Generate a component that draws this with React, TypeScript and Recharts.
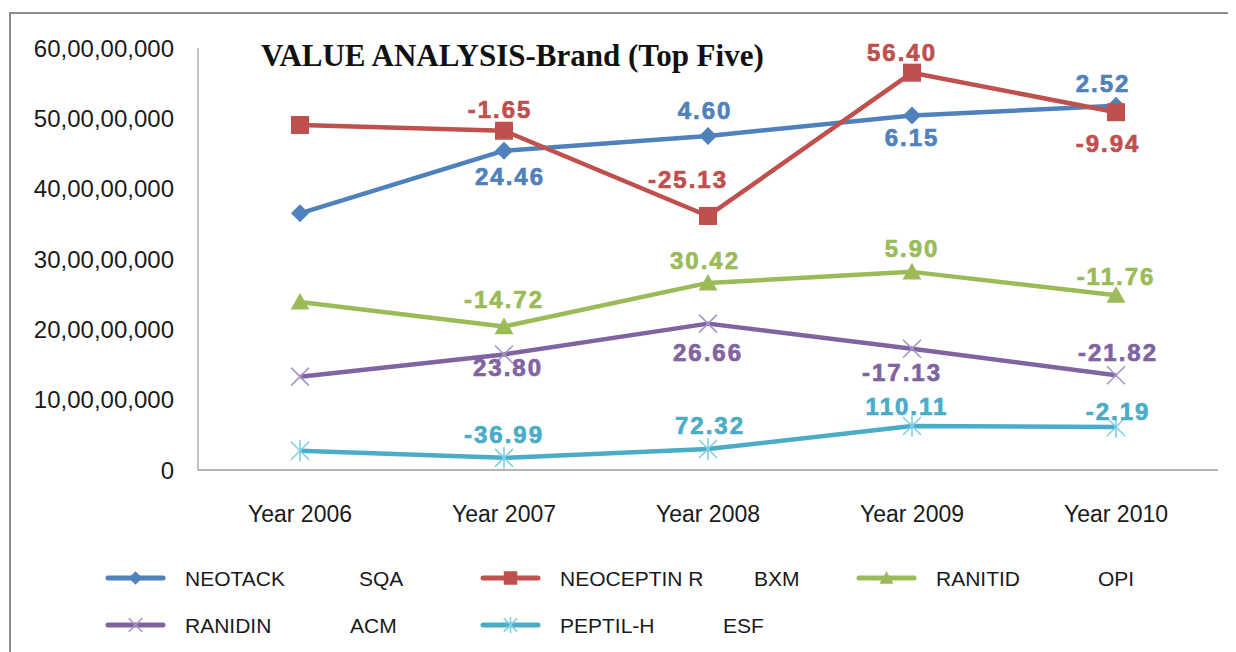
import React from "react";
import { LineChart, Line, XAxis, YAxis, Legend, LabelList } from "recharts";

// ---------- data ----------
const years = ["Year 2006", "Year 2007", "Year 2008", "Year 2009", "Year 2010"];
const brands = ["NEOTACK", "NEOCEPTIN R", "RANITID", "RANIDIN", "PEPTIL-H"];
const companies = ["SQA", "BXM", "OPI", "ACM", "ESF"];

const neotack = [365000000, 454000000, 475000000, 504000000, 518000000];
const neoceptin = [490500000, 482400000, 361200000, 564900000, 508700000];
const ranitid = [239000000, 204000000, 266000000, 281700000, 248600000];
const ranidin = [132700000, 164300000, 208100000, 172400000, 134800000];
const peptil = [27400000, 17300000, 29800000, 62600000, 61200000];

const neotackGrowth = [null, "24.46", "4.60", "6.15", "2.52"];
const neoceptinGrowth = [null, "-1.65", "-25.13", "56.40", "-9.94"];
const ranitidGrowth = [null, "-14.72", "30.42", "5.90", "-11.76"];
const ranidinGrowth = [null, "23.80", "26.66", "-17.13", "-21.82"];
const peptilGrowth = [null, "-36.99", "72.32", "110.11", "-2.19"];

const yTicks = [0, 100000000, 200000000, 300000000, 400000000, 500000000, 600000000];
const title = "VALUE ANALYSIS-Brand (Top Five)";

// ---------- chart table ----------
const data = years.map((year, i) => ({
  year,
  neotack: neotack[i],
  neoceptin: neoceptin[i],
  ranitid: ranitid[i],
  ranidin: ranidin[i],
  peptil: peptil[i],
}));

// ---------- styles ----------
const series = [
  { key: "neotack", color: "#4F81BD", marker: "diamond", markerColor: "#4F81BD", growth: neotackGrowth,
    offsets: [[0, 0], [6, 26], [-3, -25], [0, 22], [-13, -22]] },
  { key: "neoceptin", color: "#C0504D", marker: "square", markerColor: "#C0504D", growth: neoceptinGrowth,
    offsets: [[0, 0], [-4, -21], [-20, -36], [-10, -20], [-8, 31]] },
  { key: "ranitid", color: "#9BBB59", marker: "triangle", markerColor: "#9BBB59", growth: ranitidGrowth,
    offsets: [[0, 0], [0, -27], [-3, -22], [0, -23], [0, -19]] },
  { key: "ranidin", color: "#8064A2", marker: "x", markerColor: "#a895c9", growth: ranidinGrowth,
    offsets: [[0, 0], [4, 13], [0, 29], [-10, 24], [2, -23]] },
  { key: "peptil", color: "#4BACC6", marker: "star", markerColor: "#7fcfe4", growth: peptilGrowth,
    offsets: [[0, 0], [0, -23], [2, -24], [-5, -19], [2, -15]] },
];

const SANS = "'Liberation Sans', Arial, sans-serif";
const SERIF = "'Liberation Serif', 'Times New Roman', serif";

function formatIndian(v: number): string {
  const s = String(Math.round(v));
  if (s.length <= 3) return s;
  const last3 = s.slice(-3);
  const rest = s.slice(0, -3).replace(/\B(?=(\d{2})+(?!\d))/g, ",");
  return rest + "," + last3;
}

function Marker({ type, cx, cy, color, s = 1 }: { type: string; cx: number; cy: number; color: string; s?: number }) {
  const h = 9 * s;
  switch (type) {
    case "diamond":
      return <polygon points={`${cx},${cy - h} ${cx + h},${cy} ${cx},${cy + h} ${cx - h},${cy}`} fill={color} />;
    case "square":
      return <rect x={cx - h} y={cy - h} width={2 * h} height={2 * h} fill={color} />;
    case "triangle":
      return <polygon points={`${cx},${cy - h} ${cx + h * 1.05},${cy + h * 0.85} ${cx - h * 1.05},${cy + h * 0.85}`} fill={color} />;
    case "x":
      return (
        <g stroke={color} strokeWidth={1.6}>
          <line x1={cx - h} y1={cy - h} x2={cx + h} y2={cy + h} />
          <line x1={cx - h} y1={cy + h} x2={cx + h} y2={cy - h} />
        </g>
      );
    case "star":
      return (
        <g stroke={color} strokeWidth={1.6}>
          <line x1={cx - h} y1={cy - h} x2={cx + h} y2={cy + h} />
          <line x1={cx - h} y1={cy + h} x2={cx + h} y2={cy - h} />
          <line x1={cx} y1={cy - h * 1.2} x2={cx} y2={cy + h * 1.2} />
        </g>
      );
    default:
      return null;
  }
}

function LegendContent(props: any) {
  const payload = props.payload || [];
  const cols = [
    { line: 100, text: 177 },
    { line: 475, text: 552 },
    { line: 851, text: 928 },
  ];
  const codeX = [351, 746, 1090, 342, 715];
  const rows = [570, 617];
  return (
    <div style={{ position: "relative", height: 0, width: 1228 }}>
      <svg width={1228} height={120} style={{ position: "absolute", left: 0, top: 520, overflow: "visible" }}>
        {payload.map((entry: any) => {
          const i = series.findIndex((s) => s.key === entry.dataKey);
          if (i < 0) return null;
          const col = cols[i % 3];
          const y = rows[Math.floor(i / 3)] - 520;
          const s = series[i];
          return (
            <g key={s.key}>
              <line x1={col.line} y1={y} x2={col.line + 55} y2={y} stroke={s.color} strokeWidth={5} strokeLinecap="round" />
              <Marker type={s.marker} cx={col.line + 27.5} cy={y} color={s.markerColor} s={0.75} />
              <text x={col.text} y={y} dominantBaseline="central" fontFamily={SANS} fontSize={21} fill="#1a1a1a">
                {brands[i]}
              </text>
              <text x={codeX[i]} y={y} dominantBaseline="central" fontFamily={SANS} fontSize={21} fill="#1a1a1a">
                {companies[i]}
              </text>
            </g>
          );
        })}
      </svg>
    </div>
  );
}

export default function App() {
  return (
    <div style={{ position: "relative", width: 1228, height: 644, background: "#fff" }}>
      <div
        style={{
          position: "absolute",
          left: 1,
          top: 4,
          right: 0,
          bottom: 0,
          borderTop: "2px solid #8c8c8c",
          borderLeft: "2px solid #8c8c8c",
        }}
      />
      <LineChart
        width={1228}
        height={644}
        data={data}
        margin={{ top: 40, right: 18, left: 10, bottom: 122 }}
        style={{ position: "absolute", left: 0, top: 0 }}
      >
        <XAxis
          dataKey="year"
          padding={{ left: 102, right: 102 }}
          axisLine={{ stroke: "#9a9a9a", strokeWidth: 1.5 }}
          tickLine={false}
          tickSize={0}
          tickMargin={36}
          height={60}
          tick={{ fill: "#1a1a1a", fontSize: 23, fontFamily: SANS }}
          interval={0}
        />
        <YAxis
          domain={[0, 600000000]}
          ticks={yTicks}
          tickFormatter={formatIndian}
          axisLine={{ stroke: "#9a9a9a", strokeWidth: 1.2 }}
          tickLine={false}
          tickSize={0}
          tickMargin={24}
          width={180}
          tick={{ fill: "#1a1a1a", fontSize: 24, fontFamily: SANS }}
          interval={0}
        />
        <Legend content={<LegendContent />} wrapperStyle={{ left: 0, top: 0, width: 1228, height: 0 }} />
        {series.map((s, si) => (
          <Line
            key={s.key}
            dataKey={s.key}
            name={brands[si]}
            stroke={s.color}
            strokeWidth={4.5}
            strokeLinejoin="round"
            isAnimationActive={false}
            dot={(p: any) => (
              <Marker key={`d-${s.key}-${p.index}`} type={s.marker} cx={p.cx} cy={p.cy} color={s.markerColor} />
            )}
            activeDot={false}
          >
            <LabelList
              dataKey={s.key}
              content={(p: any) => {
                const g = s.growth[p.index];
                if (g == null) return null;
                const [dx, dy] = s.offsets[p.index];
                return (
                  <text
                    key={`l-${s.key}-${p.index}`}
                    x={p.x + dx}
                    y={p.y + dy}
                    textAnchor="middle"
                    dominantBaseline="central"
                    fill={s.color}
                    stroke={s.color}
                    strokeWidth={0.7}
                    fontFamily={SANS}
                    fontWeight="bold"
                    fontSize={24}
                    letterSpacing={2}
                  >
                    {g}
                  </text>
                );
              }}
            />
          </Line>
        ))}
        <text x={253} y={58} fontFamily={SERIF} fontWeight="bold" fontSize={31} fill="#111">
          {title}
        </text>
      </LineChart>
    </div>
  );
}
